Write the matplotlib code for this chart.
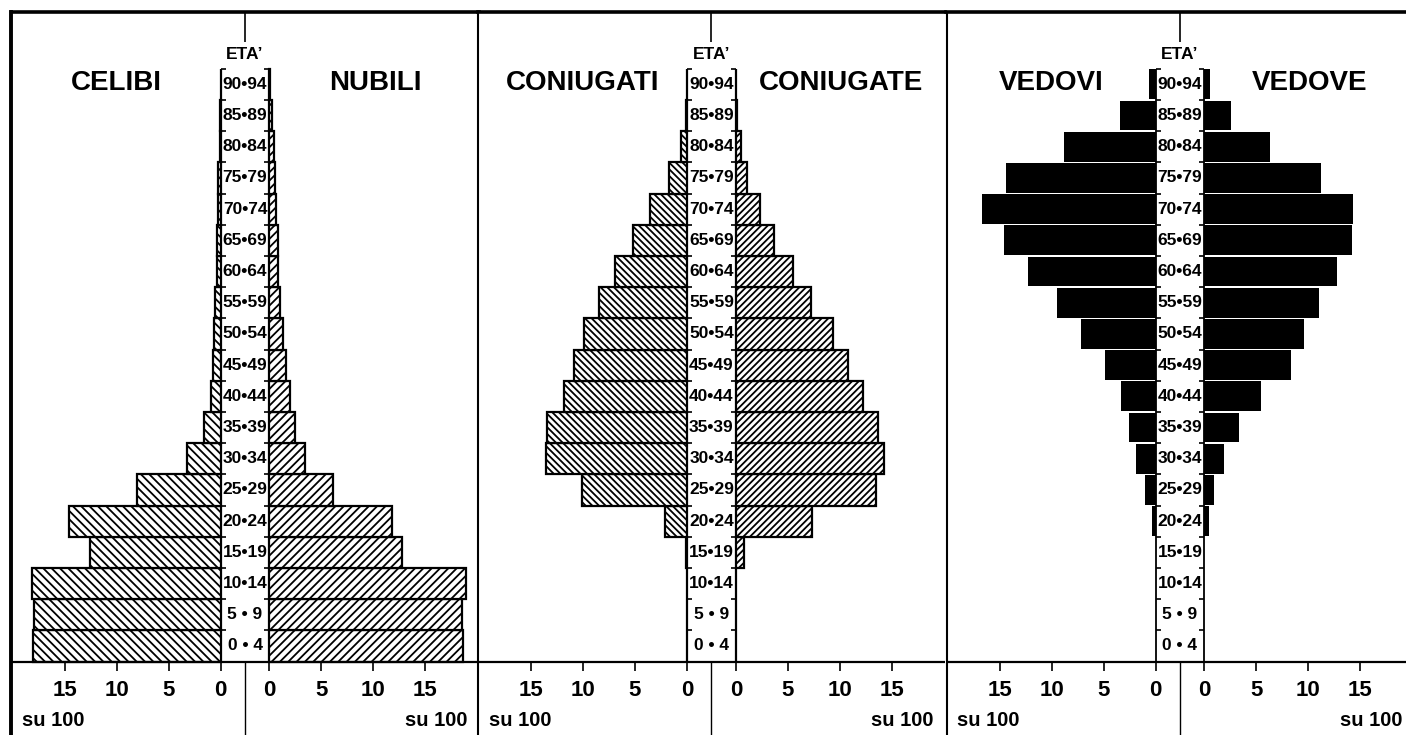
import numpy as np
import matplotlib.pyplot as plt

plt.rcParams['font.family'] = ['Liberation Sans', 'DejaVu Sans']
plt.rcParams['hatch.linewidth'] = 1.3

# classi di eta (dal basso verso l'alto)
ages = ["0 • 4", "5 • 9", "10•14", "15•19", "20•24", "25•29", "30•34",
        "35•39", "40•44", "45•49", "50•54", "55•59", "60•64", "65•69",
        "70•74", "75•79", "80•84", "85•89", "90•94"]

# valori su 100
celibi = [18.0, 17.9, 18.15, 12.6, 14.6, 8.0, 3.25, 1.55, 0.9, 0.75, 0.65,
          0.5, 0.35, 0.3, 0.2, 0.2, 0.1, 0.05, 0.0]
nubili = [18.6, 18.5, 18.9, 12.7, 11.8, 6.15, 3.4, 2.5, 2.0, 1.6, 1.35,
          1.0, 0.87, 0.85, 0.65, 0.55, 0.45, 0.2, 0.1]
coniugati = [0.0, 0.0, 0.0, 0.05, 2.15, 10.1, 13.6, 13.5, 11.8, 10.9, 9.9,
             8.5, 6.96, 5.2, 3.6, 1.75, 0.6, 0.1, 0.0]
coniugate = [0.0, 0.0, 0.0, 0.77, 7.3, 13.5, 14.2, 13.7, 12.2, 10.8, 9.3,
             7.2, 5.45, 3.7, 2.3, 1.1, 0.45, 0.1, 0.05]
vedovi = [0.0, 0.0, 0.0, 0.0, 0.35, 1.05, 1.85, 2.55, 3.3, 4.85, 7.15, 9.5,
          12.3, 14.6, 16.7, 14.4, 8.8, 3.4, 0.65]
vedove = [0.0, 0.0, 0.0, 0.0, 0.4, 0.95, 1.9, 3.3, 5.4, 8.3, 9.6, 11.0,
          12.7, 14.2, 14.3, 11.2, 6.3, 2.55, 0.55]

ticks = [0, 5, 10, 15]

W, H = 1406, 735
PXU = 10.4      # pixel per unita' (5 = 52 px)
ROW = 31.2      # altezza classe in pixel
GAP = 4.7       # larghezza colonna eta' in unita'
BASE = 661.5    # linea di base in pixel
TOP = 12


def panel(fig, mid, lv, rv, titles, kind, thick_left=False):
    half = 233.5
    ax = fig.add_axes([(mid - half) / W, 0, 2 * half / W, (H - TOP) / H])
    ax.set_xlim(-half / PXU, half / PXU)
    ax.set_ylim(-(H - BASE) / ROW, (BASE - TOP) / ROW)
    ax.set_xticks([])
    ax.set_yticks([])
    for s in ['right', 'bottom']:
        ax.spines[s].set_visible(False)
    ax.spines['top'].set_linewidth(2.6)
    ax.spines['left'].set_linewidth(2.8 if thick_left else 1.5)

    y = np.arange(len(ages)) + 0.5
    lv = np.array(lv)
    rv = np.array(rv)
    if kind == 'black':
        ax.barh(y, -lv, left=-GAP / 2, height=0.96, color='black', lw=0)
        ax.barh(y, rv, left=GAP / 2, height=0.96, color='black', lw=0)
    else:
        ax.barh(y, -lv, left=-GAP / 2, height=1, color='white',
                edgecolor='black', lw=1.6, hatch='\\' * kind)
        ax.barh(y, rv, left=GAP / 2, height=1, color='white',
                edgecolor='black', lw=1.6, hatch='/' * kind)

    # colonna eta'
    n = len(ages)
    ax.vlines([-GAP / 2, GAP / 2], 0, n, color='black', lw=1.3, zorder=3)
    b = np.arange(1, n + 1)
    ax.hlines(b, -GAP / 2, -GAP / 2 + 0.5, color='black', lw=1.2, zorder=3)
    ax.hlines(b, GAP / 2 - 0.5, GAP / 2, color='black', lw=1.2, zorder=3)
    for i, a in enumerate(ages):
        ax.text(0, i + 0.5, a, ha='center', va='center', fontsize=12.5,
                fontweight='bold', zorder=4)
    ax.text(0, 19.45, "ETA’", ha='center', va='center', fontsize=12.5,
            fontweight='bold')
    ax.vlines(0, (BASE - 42) / ROW, (BASE - TOP) / ROW, color='black', lw=1.2)

    # titoli
    ax.text(-12.4, 18.55, titles[0], ha='center', va='center', fontsize=20,
            fontweight='bold')
    ax.text(12.5, 18.55, titles[1], ha='center', va='center', fontsize=20,
            fontweight='bold')

    # scala in basso
    ax.axhline(0, color='black', lw=1.6)
    ax.vlines(0, -5, 0, color='black', lw=1.0)
    tl = [-(GAP / 2 + t) for t in ticks]
    tr = [GAP / 2 + t for t in ticks]
    ax.vlines(tl + tr, -0.32, 0, color='black', lw=1.2)
    for t, xl, xr in zip(ticks, tl, tr):
        ax.text(xl, -0.92, str(t), ha='center', va='center', fontsize=16,
                fontweight='bold')
        ax.text(xr, -0.92, str(t), ha='center', va='center', fontsize=16,
                fontweight='bold')
    ax.text(-21.4, -1.88, "su 100", ha='left', va='center', fontsize=14.5,
            fontweight='bold')
    ax.text(21.4, -1.88, "su 100", ha='right', va='center', fontsize=14.5,
            fontweight='bold')
    return ax


def main():
    fig = plt.figure(figsize=(W / 100, H / 100), dpi=100)
    panel(fig, 245, celibi, nubili, ["CELIBI", "NUBILI"], 4, thick_left=True)
    panel(fig, 711.4, coniugati, coniugate, ["CONIUGATI", "CONIUGATE"], 5)
    panel(fig, 1180, vedovi, vedove, ["VEDOVI", "VEDOVE"], 'black')
    fig.savefig('out.png', dpi=100, facecolor='white')


if __name__ == '__main__':
    main()
